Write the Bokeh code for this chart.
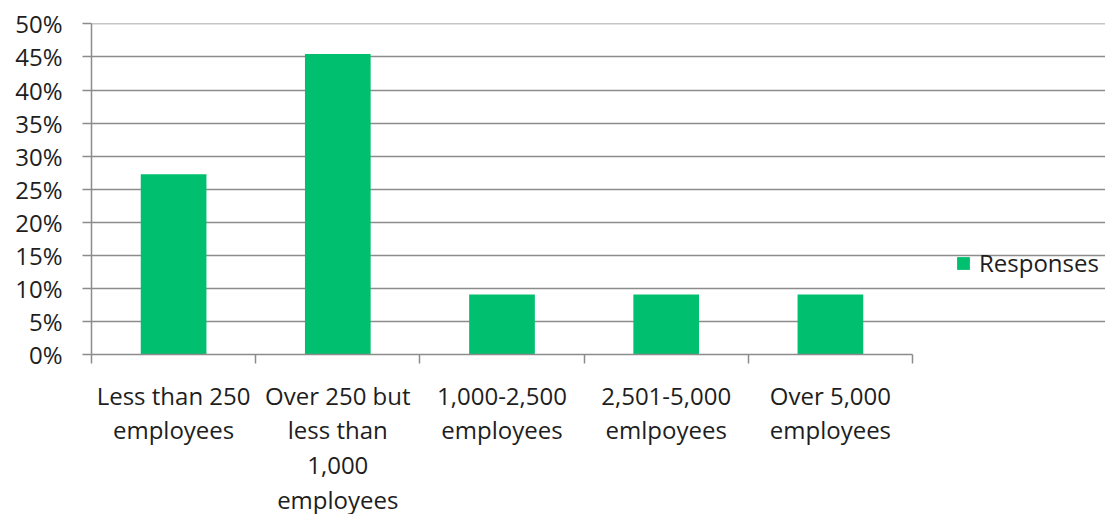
from bokeh.plotting import figure
from bokeh.models import (ColumnDataSource, Range1d, FixedTicker, LinearAxis,
                          NumeralTickFormatter, Legend, LegendItem)
from bokeh.embed import file_html
from bokeh.resources import INLINE

categories = ["Less than 250 employees", "Over 250 but less than 1,000 employees",
              "1,000-2,500 employees", "2,501-5,000 emlpoyees", "Over 5,000 employees"]
tick_labels = ["Less than 250\nemployees", "Over 250 but\nless than\n1,000\nemployees",
               "1,000-2,500\nemployees", "2,501-5,000\nemlpoyees", "Over 5,000\nemployees"]
responses = [0.2727, 0.4545, 0.0909, 0.0909, 0.0909]
y_ticks = [0, 0.05, 0.10, 0.15, 0.20, 0.25, 0.30, 0.35, 0.40, 0.45, 0.50]
series_name = "Responses"

FONT = "Open Sans"
FS = "24px"
GRAY = "#8C8C8C"
TXT = "#1e1e1e"
GREEN = "#00BF6F"

n = len(categories)
centers = [i + 0.5 for i in range(n)]  # category slot centres on a 0..n axis
src = ColumnDataSource(dict(cat=categories, x=centers, val=responses))

# frame spans to the right edge so the legend can sit inside it; the plot area
# itself (grid / axis) is bounded to 0..n
PLOT_W, FRAME_W = 821, 1014
p = figure(frame_width=FRAME_W, frame_height=331,
           x_range=Range1d(0, n * FRAME_W / PLOT_W), y_range=Range1d(0, 0.5006),
           output_backend="svg", toolbar_location=None,
           min_border_left=91, min_border_right=0, min_border_top=23, min_border_bottom=0)
p.outline_line_color = None
p.background_fill_color = "white"
p.border_fill_color = "white"

r = p.vbar(x="x", top="val", width=0.4, source=src, color=GREEN, line_color=None)

# y axis
p.yaxis.ticker = FixedTicker(ticks=y_ticks)
p.yaxis.formatter = NumeralTickFormatter(format="0%")
p.yaxis.major_tick_out = 9
p.yaxis.major_tick_in = 0
p.yaxis.minor_tick_line_color = None
p.yaxis.axis_line_color = GRAY
p.yaxis.axis_line_width = 1.5
p.yaxis.major_tick_line_color = GRAY
p.yaxis.major_tick_line_width = 1.5
p.yaxis.major_label_text_font = FONT
p.yaxis.major_label_text_font_size = FS
p.yaxis.major_label_text_color = TXT
p.yaxis.major_label_standoff = 20

p.ygrid.ticker = FixedTicker(ticks=y_ticks)
p.ygrid.grid_line_color = GRAY
p.ygrid.grid_line_width = 1.5
p.ygrid.bounds = (0, n)
p.xgrid.grid_line_color = None

# x axis: ticks at category boundaries, no labels
bx = p.xaxis[0]
bx.ticker = FixedTicker(ticks=list(range(n + 1)))
bx.bounds = (0, n)
bx.major_label_text_font_size = "0px"
bx.major_label_standoff = 0
bx.major_tick_out = 9
bx.major_tick_in = 0
bx.minor_tick_line_color = None
bx.axis_line_color = GRAY
bx.axis_line_width = 1.5
bx.major_tick_line_color = GRAY
bx.major_tick_line_width = 1.5

# second axis carrying the category labels at slot centres
lx = LinearAxis(ticker=FixedTicker(ticks=centers),
                major_label_overrides={c: lab for c, lab in zip(centers, tick_labels)})
lx.axis_line_color = None
lx.major_tick_line_color = None
lx.minor_tick_line_color = None
lx.major_tick_out = 0
lx.major_tick_in = 0
lx.major_label_standoff = 15
lx.major_label_text_font = FONT
lx.major_label_text_font_size = FS
lx.major_label_text_color = TXT
lx.major_label_text_line_height = 1.06
p.add_layout(lx, "below")

legend = Legend(items=[LegendItem(label=series_name, renderers=[r])],
                location=(864, 75), padding=0, margin=0, glyph_width=16, glyph_height=16,
                label_standoff=8, label_text_font=FONT, label_text_font_size=FS,
                label_text_color=TXT, border_line_color=None, background_fill_alpha=0)
p.add_layout(legend)

open("out.html", "w").write(file_html(p, INLINE))
